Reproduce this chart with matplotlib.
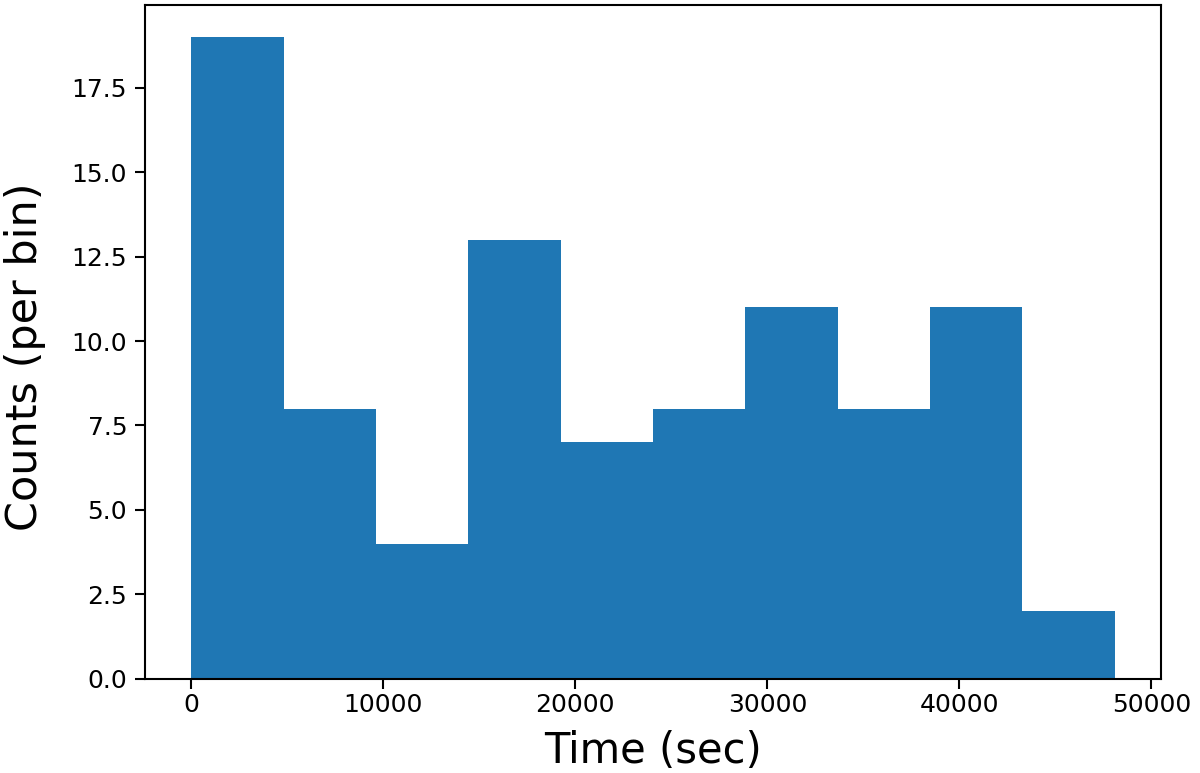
import numpy as np
import matplotlib
matplotlib.use("Agg")
import matplotlib.pyplot as plt

# histogram of photon arrival times, 10 equal bins
bin_edges = np.linspace(0, 48100, 11)
counts = [19, 8, 4, 13, 7, 8, 11, 8, 11, 2]

plt.rcParams['font.family'] = ['DejaVu Sans']

fig = plt.figure(figsize=(12, 7.73), dpi=100)
ax = fig.add_axes([0.121, 0.122, 0.8465, 0.8715])

ax.hist(bin_edges[:-1], bins=bin_edges, weights=counts, color='#1f77b4')

ax.set_xticks([0, 10000, 20000, 30000, 40000, 50000])
ax.set_yticks([0.0, 2.5, 5.0, 7.5, 10.0, 12.5, 15.0, 17.5])
ax.tick_params(labelsize=18, length=7, width=1.5)
ax.tick_params(axis='y', pad=6)
for s in ax.spines.values():
    s.set_linewidth(1.5)

ax.set_xlabel('Time (sec)', fontsize=30, labelpad=9)
ax.set_ylabel('Counts (per bin)', fontsize=31)
ax.yaxis.set_label_coords(-0.098, 0.478)

fig.savefig('out.png', dpi=100)
